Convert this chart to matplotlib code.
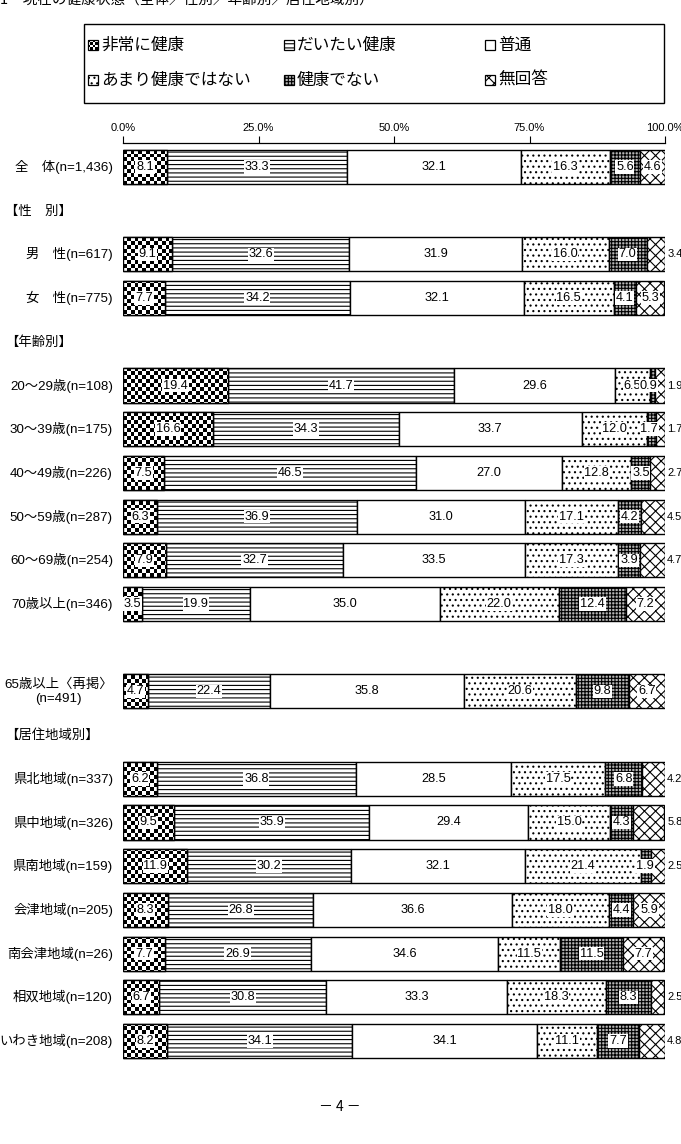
import numpy as np
import matplotlib.pyplot as plt
from matplotlib.patches import Rectangle
from matplotlib.transforms import blended_transform_factory

plt.rcParams['font.family'] = ['Noto Sans CJK JP', 'DejaVu Sans']
plt.rcParams['hatch.linewidth'] = 0.8
NUM_FONT = ['Liberation Sans Narrow', 'Liberation Sans', 'Noto Sans CJK JP']

# --- data ---------------------------------------------------------------
categories = ['非常に健康', 'だいたい健康', '普通', 'あまり健康ではない', '健康でない', '無回答']
row_labels = ['全　体(n=1,436)', '男　性(n=617)', '女　性(n=775)',
              '20～29歳(n=108)', '30～39歳(n=175)', '40～49歳(n=226)',
              '50～59歳(n=287)', '60～69歳(n=254)', '70歳以上(n=346)',
              '65歳以上〈再掲〉\n(n=491)',
              '県北地域(n=337)', '県中地域(n=326)', '県南地域(n=159)',
              '会津地域(n=205)', '南会津地域(n=26)', '相双地域(n=120)',
              'いわき地域(n=208)']
row_pos = [0, 2, 3, 5, 6, 7, 8, 9, 10, 12, 14, 15, 16, 17, 18, 19, 20]
very_good = [8.1, 9.1, 7.7, 19.4, 16.6, 7.5, 6.3, 7.9, 3.5, 4.7, 6.2, 9.5, 11.9, 8.3, 7.7, 6.7, 8.2]
fairly_good = [33.3, 32.6, 34.2, 41.7, 34.3, 46.5, 36.9, 32.7, 19.9, 22.4, 36.8, 35.9, 30.2, 26.8, 26.9, 30.8, 34.1]
normal = [32.1, 31.9, 32.1, 29.6, 33.7, 27.0, 31.0, 33.5, 35.0, 35.8, 28.5, 29.4, 32.1, 36.6, 34.6, 33.3, 34.1]
not_very = [16.3, 16.0, 16.5, 6.5, 12.0, 12.8, 17.1, 17.3, 22.0, 20.6, 17.5, 15.0, 21.4, 18.0, 11.5, 18.3, 11.1]
not_healthy = [5.6, 7.0, 4.1, 0.9, 1.7, 3.5, 4.2, 3.9, 12.4, 9.8, 6.8, 4.3, 1.9, 4.4, 11.5, 8.3, 7.7]
no_answer = [4.6, 3.4, 5.3, 1.9, 1.7, 2.7, 4.5, 4.7, 7.2, 6.7, 4.2, 5.8, 2.5, 5.9, 7.7, 2.5, 4.8]
na_outside = [False, True, False, True, True, True, True, True, False, False,
              True, True, True, False, False, True, True]
headers = ['【性　別】', '【年齢別】', '【居住地域別】']
header_pos = [1, 4, 13]
ticks = [0, 25, 50, 75, 100]
tick_labels = ['0.0%', '25.0%', '50.0%', '75.0%', '100.0%']

series = [very_good, fairly_good, normal, not_very, not_healthy, no_answer]
faces = ['white', 'white', 'white', 'white', '#b4b4b4', 'white']
hatches = [None, '----', None, '...', '+++++', 'xxx']

W, H = 681, 1144
fig = plt.figure(figsize=(W / 100, H / 100), dpi=100)
ax = fig.add_axes([123 / W, 1 - 1065 / H, 542 / W, 922 / H])
Y0, Y1 = -0.55, 20.55

# checker texture (about 3.8 px cells)
nx, ny = int(542 / 3.8), int(922 / 3.8)
jj, ii = np.meshgrid(np.arange(nx), np.arange(ny))
checker = ((ii + jj) % 2).astype(float)


def fill_checker(axis, patch, extent, img):
    im = axis.imshow(img, extent=extent, aspect='auto', interpolation='nearest',
                     cmap='gray', vmin=0, vmax=1, zorder=2.2)
    im.set_clip_path(patch)


left = np.zeros(len(row_pos))
for k, vals in enumerate(series):
    bars = ax.barh(row_pos, vals, left=left, height=0.78, color=faces[k],
                   edgecolor='black', linewidth=1.0, hatch=hatches[k], zorder=2)
    if k == 0:
        for b in bars:
            fill_checker(ax, b, (0, 100, Y1, Y0), checker)
        ax.barh(row_pos, vals, left=left, height=0.78, fill=False,
                edgecolor='black', linewidth=1.0, zorder=3)
    for r, (y, v) in enumerate(zip(row_pos, vals)):
        x0 = left[r]
        if k == 5 and na_outside[r]:
            ax.text(100.4, y, f'{v:.1f}', ha='left', va='center', fontsize=8,
                    family=NUM_FONT, zorder=5)
            continue
        if k == 4 and v < 2.5:
            tx, ha = x0 + v + 0.45, 'right'
        else:
            tx, ha = x0 + v / 2, 'center'
        ax.text(tx, y, f'{v:.1f}', ha=ha, va='center', fontsize=9.2, family=NUM_FONT,
                zorder=5, bbox=dict(boxstyle='square,pad=0.06', fc='white', ec='none'))
    left = left + np.array(vals)

ax.set_xlim(0, 100)
ax.set_ylim(Y1, Y0)
ax.xaxis.tick_top()
ax.set_xticks(ticks)
ax.set_xticklabels(tick_labels, family=NUM_FONT)
ax.tick_params(axis='x', direction='out', length=5, width=0.8, pad=2, labelsize=8)
ax.set_yticks([])
for s in ['left', 'right', 'bottom']:
    ax.spines[s].set_visible(False)
ax.spines['top'].set_linewidth(0.9)

tr = blended_transform_factory(fig.transFigure, ax.transData)
for lab, y in zip(row_labels, row_pos):
    ax.text(113 / W, y, lab, transform=tr, ha='right', va='center', fontsize=9.6,
            family=NUM_FONT, multialignment='center', linespacing=1.2)
for h, y in zip(headers, header_pos):
    ax.text(5 / W, y, h, transform=tr, ha='left', va='center', fontsize=9.6)

# legend box, in pixel coordinates
lax = fig.add_axes([0, 0, 1, 1], zorder=-1)
lax.axis('off')
lax.add_patch(Rectangle((84, 24), 580, 79, fill=False, edgecolor='black', linewidth=1.0))
col_x = [88, 284, 485]
row_y = [45, 80]
for k, name in enumerate(categories):
    x = col_x[k % 3]
    y = row_y[k // 3]
    if k == 0:
        lax.imshow(np.array([[0, 1, 0, 1], [1, 0, 1, 0], [0, 1, 0, 1], [1, 0, 1, 0]], float),
                   extent=(x, x + 10, y + 5, y - 5), cmap='gray',
                   vmin=0, vmax=1, interpolation='nearest', aspect='auto')
    lax.add_patch(Rectangle((x, y - 5), 10, 10, fill=(k != 0), facecolor=faces[k],
                            edgecolor='black', linewidth=0.9, hatch=hatches[k]))
    lax.text(x + 13, y, name, ha='left', va='center', fontsize=12)
lax.set_xlim(0, W)
lax.set_ylim(H, 0)

fig.text(0.0, 1 - 4 / H, '1　現在の健康状態（全体／性別／年齢別／居住地域別）',
         ha='left', va='baseline', fontsize=10.5)
fig.text(340 / W, 1 - 1107 / H, '－ 4 －', ha='center', va='center', fontsize=10)

fig.savefig('out.png', dpi=100, facecolor='white')
